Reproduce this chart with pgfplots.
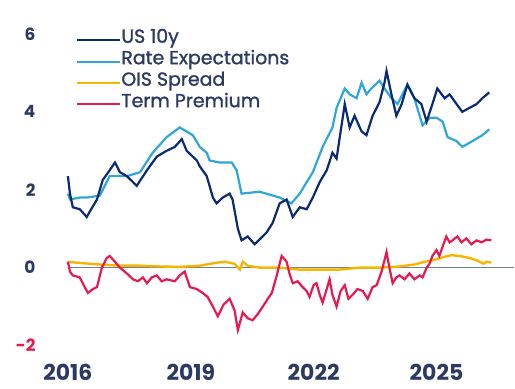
\documentclass[border=0pt]{standalone}
\usepackage{pgfplots}
\pgfplotsset{compat=1.18}
\usepackage{fontspec}
\setmainfont{Poppins}
\newfontface\legfont{Poppins}[FakeBold=1.2]
\definecolor{navy}{HTML}{0A2A72}
\definecolor{lblue}{HTML}{2FA6D9}
\definecolor{ois}{HTML}{F6B600}
\definecolor{tpred}{HTML}{E8194F}
\definecolor{zline}{HTML}{6F7F96}
\definecolor{txt}{HTML}{2C3A63}
\begin{document}
\begin{tikzpicture}
\begin{axis}[
  scale only axis, width=447bp, height=312bp,
  xmin=2016, xmax=2026.9, ymin=-2, ymax=6,
  clip=false,
  axis line style={draw=none}, tick style={draw=none},
  xtick={2016,2019,2022,2025}, xticklabels={2016,2019,2022,2025},
  ytick={-2,0,2,4,6}, yticklabels={\textcolor{tpred}{-2},0,2,4,6},
  xticklabel style={font=\bfseries\fontsize{22}{23}\selectfont, text=txt, inner sep=0pt, yshift=-18bp},
  yticklabel style={font=\bfseries\fontsize{17}{18}\selectfont, text=txt, xshift=-29bp},
  legend style={at={(rel axis cs:0.012,1.022)}, anchor=north west, draw=none, fill=none,
    font=\legfont\fontsize{19}{19}\selectfont, text=txt, row sep=0bp,
    nodes={inner sep=0pt, text height=13.5bp, text depth=8bp},
    /tikz/every even column/.append style={column sep=4bp}},
  legend cell align=left,
  legend image code/.code={\draw[#1, line width=2bp] (0bp,0bp) -- (43bp,0bp);},
]
\path (rel axis cs:0,0) ++(-68bp,-43bp) rectangle ++(515bp,389bp);
\addlegendimage{navy}\addlegendentry{US 10y}
\addlegendimage{lblue}\addlegendentry{Rate Expectations}
\addlegendimage{ois}\addlegendentry{OIS Spread}
\addlegendimage{tpred}\addlegendentry{Term Premium}
\draw[zline, line width=1.4bp] (axis cs:2016,0) -- (axis cs:2026.9,0);
% Rate expectations
\addplot[lblue, line width=2.2bp, forget plot] coordinates {(2016.00,1.9)(2016.05,1.75)(2016.29,1.8)(2016.46,1.8)(2016.78,1.85)(2017.02,2.35)(2017.44,2.35)(2017.76,2.45)(2018.07,2.95)(2018.41,3.35)(2018.73,3.6)(2019.05,3.4)(2019.22,3.1)(2019.39,2.95)(2019.46,2.75)(2019.71,2.7)(2020.00,2.7)(2020.12,2.5)(2020.24,1.9)(2020.68,1.95)(2021.17,1.8)(2021.46,1.65)(2021.66,1.9)(2021.98,2.45)(2022.22,3.1)(2022.46,3.6)(2022.56,4.1)(2022.76,4.6)(2022.88,4.45)(2023.05,4.35)(2023.17,4.75)(2023.29,4.45)(2023.41,4.6)(2023.61,4.8)(2023.73,4.6)(2023.90,4.35)(2024.05,4.2)(2024.29,4.7)(2024.46,4.35)(2024.66,3.65)(2024.83,3.85)(2025.00,3.85)(2025.15,3.75)(2025.27,3.35)(2025.49,3.25)(2025.63,3.1)(2025.88,3.25)(2026.12,3.4)(2026.29,3.55)};
% US 10y
\addplot[navy, line width=2.2bp, forget plot] coordinates {(2016.00,2.35)(2016.05,1.9)(2016.12,1.55)(2016.29,1.5)(2016.46,1.3)(2016.54,1.45)(2016.71,1.75)(2016.85,2.25)(2017.02,2.5)(2017.15,2.7)(2017.27,2.45)(2017.44,2.35)(2017.68,2.1)(2017.93,2.5)(2018.17,2.85)(2018.41,3.0)(2018.61,3.1)(2018.78,3.3)(2018.90,3.0)(2019.15,2.75)(2019.22,2.6)(2019.39,2.35)(2019.54,1.8)(2019.63,1.65)(2019.78,1.8)(2019.95,1.9)(2020.02,1.75)(2020.15,1.0)(2020.24,0.7)(2020.39,0.8)(2020.56,0.6)(2020.85,0.9)(2021.00,1.15)(2021.17,1.65)(2021.34,1.75)(2021.49,1.3)(2021.66,1.55)(2021.83,1.5)(2021.98,1.8)(2022.15,2.2)(2022.32,2.5)(2022.46,2.95)(2022.56,2.8)(2022.66,3.5)(2022.76,4.2)(2022.88,3.6)(2023.00,3.9)(2023.17,3.5)(2023.29,3.4)(2023.44,3.9)(2023.61,4.25)(2023.73,4.75)(2023.78,5.05)(2023.90,4.45)(2024.02,3.9)(2024.15,4.2)(2024.29,4.7)(2024.46,4.35)(2024.63,4.2)(2024.76,3.75)(2024.90,4.2)(2025.02,4.6)(2025.20,4.35)(2025.32,4.45)(2025.49,4.2)(2025.63,4.0)(2025.80,4.1)(2025.98,4.2)(2026.12,4.35)(2026.29,4.5)};
% OIS spread
\addplot[ois, line width=2.4bp, forget plot] coordinates {(2016.00,0.15)(2016.29,0.12)(2016.78,0.08)(2017.27,0.05)(2017.76,0.05)(2018.24,0.03)(2018.73,0.02)(2019.22,0.05)(2019.59,0.12)(2019.83,0.15)(2020.07,0.1)(2020.20,-0.05)(2020.27,0.15)(2020.39,0.05)(2020.68,0.0)(2021.17,0.0)(2021.66,-0.05)(2022.15,-0.05)(2022.63,-0.05)(2023.12,0.0)(2023.61,0.0)(2024.10,0.03)(2024.46,0.08)(2024.71,0.15)(2024.95,0.2)(2025.20,0.28)(2025.37,0.32)(2025.56,0.3)(2025.80,0.25)(2026.00,0.18)(2026.15,0.1)(2026.22,0.15)(2026.34,0.13)};
% Term premium
\addplot[tpred, line width=2.2bp, forget plot] coordinates {(2016.00,0.15)(2016.05,-0.1)(2016.12,-0.2)(2016.29,-0.25)(2016.41,-0.5)(2016.49,-0.65)(2016.61,-0.55)(2016.71,-0.5)(2016.83,0.0)(2016.95,0.25)(2017.02,0.3)(2017.15,0.15)(2017.27,0.0)(2017.44,-0.15)(2017.59,-0.3)(2017.71,-0.35)(2017.83,-0.25)(2017.93,-0.4)(2018.05,-0.25)(2018.17,-0.2)(2018.29,-0.35)(2018.41,-0.3)(2018.61,-0.35)(2018.73,-0.2)(2018.85,-0.1)(2018.98,-0.5)(2019.15,-0.55)(2019.29,-0.65)(2019.41,-0.75)(2019.54,-1.0)(2019.66,-1.25)(2019.80,-0.95)(2019.95,-0.8)(2020.07,-1.1)(2020.15,-1.6)(2020.27,-1.15)(2020.39,-1.3)(2020.51,-1.35)(2020.63,-1.2)(2020.76,-1.0)(2020.88,-0.8)(2020.98,-0.65)(2021.10,-0.2)(2021.17,0.1)(2021.22,0.3)(2021.34,0.15)(2021.41,-0.15)(2021.49,-0.4)(2021.61,-0.35)(2021.73,-0.5)(2021.83,-0.6)(2021.90,-0.75)(2022.00,-0.45)(2022.07,-0.4)(2022.15,-0.7)(2022.22,-0.9)(2022.32,-0.55)(2022.39,-0.3)(2022.46,-0.7)(2022.56,-1.0)(2022.66,-0.6)(2022.76,-0.45)(2022.85,-0.8)(2022.95,-0.7)(2023.07,-0.55)(2023.20,-0.6)(2023.32,-0.8)(2023.44,-0.5)(2023.54,-0.45)(2023.66,-0.1)(2023.78,0.4)(2023.85,0.0)(2023.93,-0.4)(2024.02,-0.25)(2024.10,-0.2)(2024.22,-0.3)(2024.34,-0.15)(2024.46,-0.3)(2024.59,-0.2)(2024.66,-0.25)(2024.76,0.0)(2024.83,0.1)(2024.90,0.3)(2025.00,0.45)(2025.07,0.3)(2025.17,0.6)(2025.24,0.8)(2025.32,0.65)(2025.39,0.7)(2025.51,0.8)(2025.61,0.65)(2025.73,0.75)(2025.85,0.6)(2025.98,0.7)(2026.10,0.65)(2026.22,0.72)(2026.34,0.7)};
\end{axis}
\end{tikzpicture}
\end{document}
